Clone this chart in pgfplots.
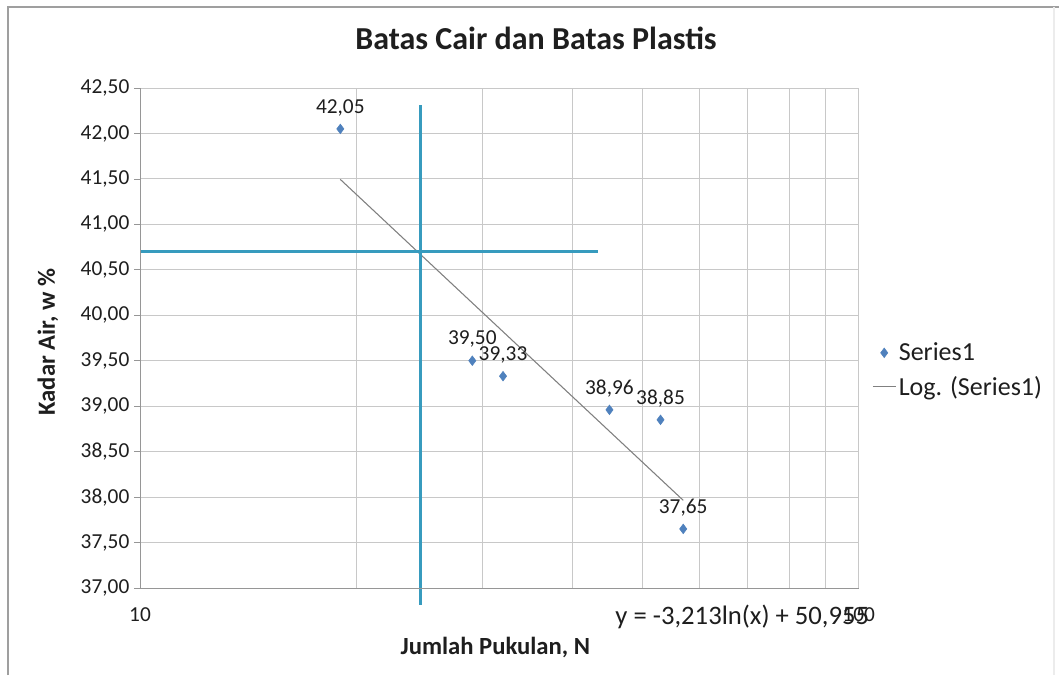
\documentclass[border=0pt]{standalone}
\usepackage{pgfplots}
\pgfplotsset{compat=1.18}
\usepackage{fontspec}
\setmainfont{Carlito}
\definecolor{ptblue}{RGB}{79,129,189}
\definecolor{cyanline}{RGB}{55,155,190}
\definecolor{gridc}{RGB}{200,200,200}
\definecolor{axc}{RGB}{150,150,150}
\definecolor{trendc}{RGB}{128,128,128}
\definecolor{txt}{RGB}{30,30,30}
\begin{document}
\begin{tikzpicture}
\useasboundingbox (-105pt,-65.25pt) rectangle (689.25pt,441pt);
\fill[white] (-105pt,-65.25pt) rectangle (689.25pt,441pt);
\draw[gray!75, line width=1pt] (-99pt,-65.25pt) -- (-99pt,435.75pt) -- (689.25pt,435.75pt);
\draw[gray!15, line width=0.8pt] (685.5pt,435.75pt) -- (685.5pt,-65.25pt);
\node[font=\fontsize{24}{28}\selectfont\bfseries, text=txt] at (297pt,412.5pt) {Batas Cair dan Batas Plastis};
\begin{axis}[
  at={(0pt,0pt)}, anchor=south west,
  scale only axis, width=539pt, height=375pt,
  xmode=log, xmin=10, xmax=100, ymin=37, ymax=42.5,
  xtick={10,100}, xticklabels={10,100},
  minor xtick={20,30,40,50,60,70,80,90},
  ytick={37,37.5,38,38.5,39,39.5,40,40.5,41,41.5,42,42.5},
  ytick pos=left,
  yticklabel style={/pgf/number format/.cd, fixed, fixed zerofill, precision=2, use comma},
  /pgf/number format/assume math mode=true,
  tick label style={font=\fontsize{16}{19}\selectfont, text=txt},
  xticklabel style={yshift=-7pt},
  tick align=outside,
  y tick style={axc, line width=0.6pt},
  x tick style={draw=none},
  major tick length=4.5pt, minor tick length=0pt,
  xmajorgrids=true, xminorgrids=true, ymajorgrids=true,
  major grid style={gridc, line width=0.7pt},
  minor grid style={gridc, line width=0.7pt},
  axis line style={gridc, line width=0.7pt},
  xlabel={\bfseries Jumlah Pukulan, N},
  ylabel={\bfseries Kadar Air, w \%},
  xlabel style={font=\fontsize{18.5}{22}\selectfont, text=txt, at={(0.5,0)}, anchor=center, yshift=-45pt, xshift=-3pt},
  ylabel style={font=\fontsize{18.5}{22}\selectfont, text=txt, at={(0,0.5)}, anchor=center, yshift=69pt, xshift=-3pt},
  legend style={at={(1.0186,0.436)}, anchor=west, draw=none, fill=none,
    font=\fontsize{19.5}{23}\selectfont, text=txt, row sep=6pt, inner sep=0pt},
  legend cell align=left,
  clip=false,
]
\addplot[only marks, mark=diamond*, mark size=3.6pt, color=ptblue,
  nodes near coords={\pgfmathprintnumber[fixed,fixed zerofill,precision=2,use comma]{\pgfplotspointmeta}},
  point meta=explicit,
  every node near coord/.style={anchor=center, yshift=16pt, font=\fontsize{16}{19}\selectfont, text=txt}]
  table[meta=y] {
  x y
  19 42.05
  29 39.50
  32 39.33
  45 38.96
  53 38.85
  57 37.65
  };
\addlegendentry{Series1}
\addplot[trendc, line width=0.8pt] coordinates {(19,41.4946) (57,37.9645)};
\addlegendentry{Log. (Series1)}
\addplot[cyanline, line width=2.2pt, forget plot] coordinates {(10,40.70) (43.4,40.70)};
\addplot[cyanline, line width=2.2pt, forget plot] coordinates {(24.6,42.31) (24.6,36.81)};
\draw[axc, line width=0.7pt] (rel axis cs:0,0) -- (rel axis cs:0,1);
\draw[axc, line width=0.7pt] (rel axis cs:0,0) -- (rel axis cs:1,0);
\node[anchor=west, font=\fontsize{20}{24}\selectfont, text=txt] at (rel axis cs:0.655,-0.058) {y = -3,213ln(x) + 50,955};
\end{axis}
\end{tikzpicture}
\end{document}
